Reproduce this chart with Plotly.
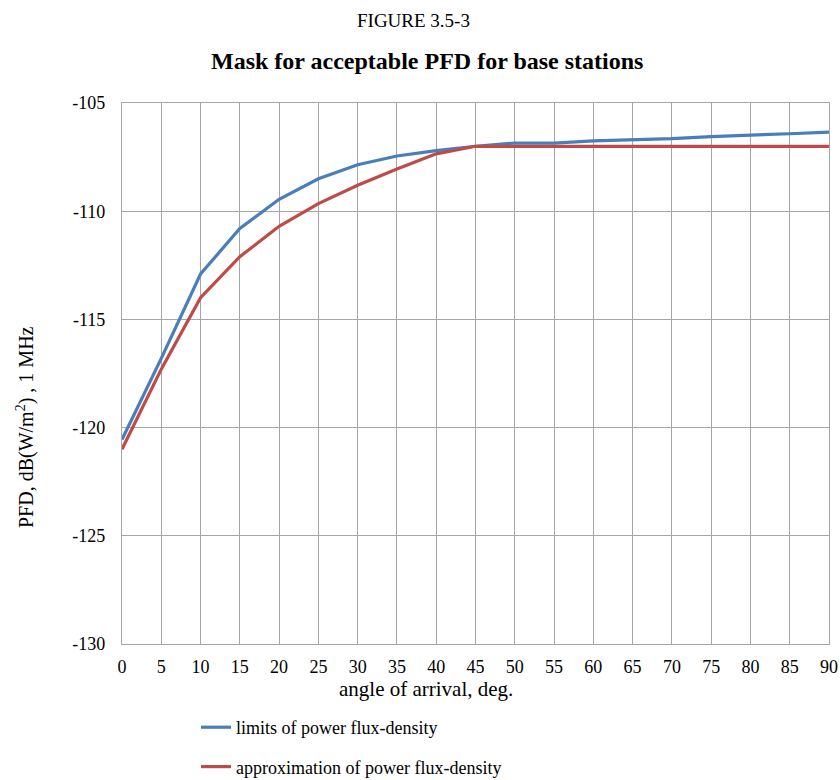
import plotly.graph_objects as go

angles = [0, 5, 10, 15, 20, 25, 30, 35, 40, 45, 50, 55, 60, 65, 70, 75, 80, 85, 90]
limits_pfd = [-120.55, -116.8, -112.9, -110.8, -109.45, -108.5, -107.85, -107.45, -107.2, -107.0,
              -106.85, -106.85, -106.75, -106.7, -106.65, -106.55, -106.5, -106.42, -106.35]
approx_pfd = [-121.0, -117.3, -114.0, -112.1, -110.7, -109.65, -108.8, -108.05, -107.35, -107.0,
              -107.0, -107.0, -107.0, -107.0, -107.0, -107.0, -107.0, -107.0, -107.0]
x_ticks = list(range(0, 91, 5))
y_ticks = [-130, -125, -120, -115, -110, -105]

FONT = "Liberation Serif, Times New Roman, serif"
W, H = 840, 780
L, R, T, B = 122, 829, 103, 644


def px(x):
    return (x - L) / (R - L)


def py(y):
    return (B - y) / (B - T)


fig = go.Figure()
fig.add_trace(go.Scatter(x=angles, y=limits_pfd, mode="lines", name="limits of power flux-density",
                         line=dict(color="#4a7ebb", width=3.2), legendgroup="a"))
fig.add_trace(go.Scatter(x=angles, y=approx_pfd, mode="lines", name="approximation of power flux-density",
                         line=dict(color="#be4b48", width=3.2), legendgroup="b"))

fig.update_layout(
    width=W, height=H,
    margin=dict(l=L, r=W - R, t=T, b=H - B, autoexpand=False),
    paper_bgcolor="white", plot_bgcolor="white",
    font=dict(family=FONT, size=18, color="black"),
    showlegend=True,
    legend=dict(x=px(196), y=py(709), xanchor="left", yanchor="top",
                font=dict(family=FONT, size=18), tracegroupgap=13,
                traceorder="grouped", bgcolor="rgba(0,0,0,0)"),
    annotations=[
        dict(text="FIGURE 3.5-3", x=px(413), y=py(20), xref="paper", yref="paper",
             xanchor="center", yanchor="middle", showarrow=False,
             font=dict(family=FONT, size=19)),
        dict(text="<b>Mask for acceptable PFD for base stations</b>", x=px(427), y=py(61),
             xref="paper", yref="paper", xanchor="center", yanchor="middle", showarrow=False,
             font=dict(family=FONT, size=24)),
        dict(text="angle of arrival, deg.", x=px(426), y=py(689), xref="paper", yref="paper",
             xanchor="center", yanchor="middle", showarrow=False,
             font=dict(family=FONT, size=21)),
        dict(text="PFD, dB(W/m<sup>2</sup>) , 1 MHz", x=px(25), y=py(427), xref="paper", yref="paper",
             xanchor="center", yanchor="middle", showarrow=False, textangle=-90,
             font=dict(family=FONT, size=20)),
    ],
)

fig.update_xaxes(range=[0, 90], tickvals=x_ticks, ticktext=[str(v) for v in x_ticks],
                 showgrid=True, gridcolor="#a6a6a6", gridwidth=1.3,
                 showline=True, linecolor="#a6a6a6", linewidth=1.3, mirror=True,
                 zeroline=False, ticks="", ticklabelstandoff=6, automargin=False,
                 tickfont=dict(family=FONT, size=18))
fig.update_yaxes(range=[-130, -105], tickvals=y_ticks, ticktext=[str(v) for v in y_ticks],
                 showgrid=True, gridcolor="#a6a6a6", gridwidth=1.3,
                 showline=True, linecolor="#a6a6a6", linewidth=1.3, mirror=True,
                 zeroline=False, ticks="", ticklabelstandoff=12, automargin=False,
                 tickfont=dict(family=FONT, size=18))

fig.write_html("out.html")
